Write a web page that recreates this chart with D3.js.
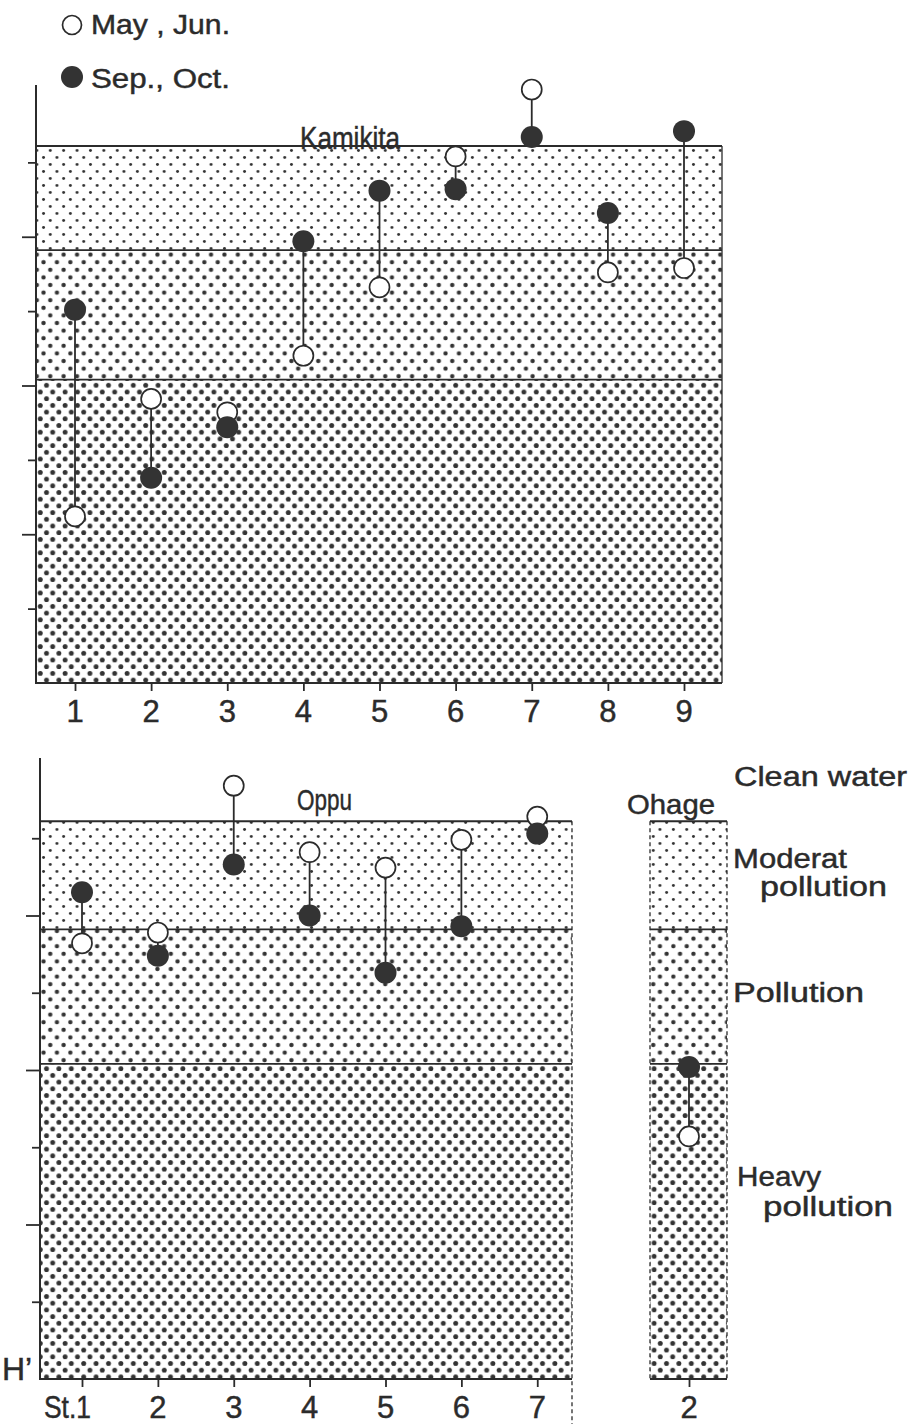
<!DOCTYPE html>
<html>
<head>
<meta charset="utf-8">
<script src="https://cdn.jsdelivr.net/npm/d3@7"></script>
<style>
  html, body { margin: 0; padding: 0; background: #fff; }
  svg { display: block; }
  text { font-family: "Liberation Sans", Arial, Helvetica, sans-serif; fill: #2b2b2b;
         stroke: #2b2b2b; stroke-width: 0.45px; }
</style>
</head>
<body>
<svg id="chart" width="908" height="1424"></svg>
<script>
// Diversity index H' at each station, two sampling seasons.
const kamikitaStations = ["1", "2", "3", "4", "5", "6", "7", "8", "9"];
const kamikitaMayJun   = [1.12, 1.91, 1.82, 2.20, 2.66, 3.54, 3.99, 2.76, 2.79];
const kamikitaSepOct   = [2.51, 1.38, 1.72, 2.97, 3.31, 3.32, 3.67, 3.16, 3.71];

const oppuStations = ["St.1", "2", "3", "4", "5", "6", "7"];
const oppuMayJun   = [2.82, 2.89, 3.84, 3.41, 3.31, 3.49, 3.64];
const oppuSepOct   = [3.15, 2.74, 3.33, 3.00, 2.63, 2.93, 3.53];

const ohageStations = ["2"];
const ohageMayJun   = [1.57];
const ohageSepOct   = [2.02];

// Water quality classes (upper H' bound of each shaded zone)
const zoneNames  = ["Moderat pollution", "Pollution", "Heavy pollution"];
const zoneBounds = [3.61, 2.91, 2.04, 0];
const yTickMajor = [1, 2, 3];
const yTickMinor = [0.5, 1.5, 2.5, 3.5];

const ink = "#2b2b2b";
const svg = d3.select("#chart");
const defs = svg.append("defs");

// Dot screens for the three zones
function dotPattern(id, w, h, r) {
  const p = defs.append("pattern").attr("id", id)
    .attr("patternUnits", "userSpaceOnUse").attr("width", w).attr("height", h);
  p.append("rect").attr("width", w).attr("height", h).attr("fill", "#fff");
  [[w * 0.25, h * 0.25], [w * 0.75, h * 0.75]].forEach(([cx, cy]) =>
    p.append("circle").attr("cx", cx).attr("cy", cy).attr("r", r).attr("fill", "#333"));
}
dotPattern("zone0", 13.4, 14.0, 1.45);
dotPattern("zone1", 13.4, 15.2, 2.2);
dotPattern("zone2", 12.4, 13.4, 2.45);

function drawPanel(cfg) {
  const g = svg.append("g");
  const y = d3.scaleLinear().domain([0, 4]).range([cfg.y0, cfg.y4]);

  // shaded zones
  cfg.blocks.forEach(b => {
    zoneNames.forEach((z, i) => {
      g.append("rect")
        .attr("x", b.x0).attr("width", b.x1 - b.x0)
        .attr("y", y(zoneBounds[i])).attr("height", y(zoneBounds[i + 1]) - y(zoneBounds[i]))
        .attr("fill", `url(#zone${i})`);
    });
    // zone boundaries
    zoneBounds.slice(0, 3).forEach(v => {
      g.append("line").attr("x1", b.x0).attr("x2", b.x1)
        .attr("y1", y(v)).attr("y2", y(v))
        .attr("stroke", ink).attr("stroke-width", 1.8);
    });
    // baseline
    g.append("line").attr("x1", b.x0).attr("x2", b.x1)
      .attr("y1", y(0)).attr("y2", y(0)).attr("stroke", ink).attr("stroke-width", 2);
    // side edges
    (b.edges || []).forEach(e => {
      g.append("line").attr("x1", e.x).attr("x2", e.x)
        .attr("y1", y(zoneBounds[0])).attr("y2", e.bottom || y(0))
        .attr("stroke", ink).attr("stroke-width", 1.3)
        .attr("stroke-dasharray", e.dash || null);
    });
  });

  // y axis with long and short ticks
  const axisG = g.append("g").attr("transform", `translate(${cfg.axisX},0)`);
  axisG.append("g").call(d3.axisLeft(y).tickValues(yTickMajor).tickSize(14).tickFormat(""))
    .call(a => a.select(".domain").remove());
  axisG.append("g").call(d3.axisLeft(y).tickValues(yTickMinor).tickSize(8).tickFormat(""))
    .call(a => a.select(".domain").remove());
  axisG.selectAll(".tick line").attr("stroke", ink).attr("stroke-width", 1.8);
  axisG.append("line").attr("x1", 0).attr("x2", 0)
    .attr("y1", y(4.02)).attr("y2", y(0) + 1)
    .attr("stroke", ink).attr("stroke-width", 2);

  // stations
  cfg.groups.forEach(grp => {
    const x = grp.x;
    const rows = grp.labels.map((s, i) => ({ s, a: grp.mayJun[i], b: grp.sepOct[i] }));
    // x ticks
    g.append("g").attr("transform", `translate(0,${y(0)})`)
      .call(d3.axisBottom(x).tickSize(8).tickFormat(""))
      .call(a => a.select(".domain").remove())
      .selectAll(".tick line").attr("stroke", ink).attr("stroke-width", 1.8);
    // x labels
    g.selectAll(null).data(rows).enter().append("text")
      .attr("x", d => x(d.s) + (d.s.startsWith("St.") ? 9 : 0))
      .attr("y", y(0) + 39)
      .attr("text-anchor", d => d.s.startsWith("St.") ? "end" : "middle")
      .attr("font-size", 31)
      .attr("textLength", d => d.s.startsWith("St.") ? 47 : null)
      .attr("lengthAdjust", "spacingAndGlyphs")
      .text(d => d.s);
    // stems
    g.selectAll(null).data(rows).enter().append("line")
      .attr("x1", d => x(d.s)).attr("x2", d => x(d.s))
      .attr("y1", d => y(d.a)).attr("y2", d => y(d.b))
      .attr("stroke", ink).attr("stroke-width", 1.8);
    // May, Jun. (open)
    g.selectAll(null).data(rows).enter().append("circle")
      .attr("cx", d => x(d.s)).attr("cy", d => y(d.a)).attr("r", 10)
      .attr("fill", "#fff").attr("stroke", ink).attr("stroke-width", 1.7);
    // Sep., Oct. (filled)
    g.selectAll(null).data(rows).enter().append("circle")
      .attr("cx", d => x(d.s)).attr("cy", d => y(d.b)).attr("r", 11)
      .attr("fill", "#333");
  });

  cfg.titles.forEach(t => {
    g.append("text").attr("x", t.x).attr("y", t.y).attr("font-size", t.size)
      .attr("textLength", t.w).attr("lengthAdjust", "spacingAndGlyphs").text(t.text);
  });
  return y;
}

// Kamikita
drawPanel({
  y0: 683, y4: 88, axisX: 36,
  blocks: [{ x0: 36, x1: 722, edges: [{ x: 722 }] }],
  groups: [{
    labels: kamikitaStations, mayJun: kamikitaMayJun, sepOct: kamikitaSepOct,
    x: d3.scalePoint().domain(kamikitaStations).range([75, 684])
  }],
  titles: [{ text: "Kamikita", x: 300, y: 149, w: 100, size: 31 }]
});

// Oppu and Ohage share one slot scale with a gap between them
const slots = [...oppuStations, "gap", "Ohage " + ohageStations[0]];
const slotX = d3.scalePoint().domain(slots).range([82, 689]);
const ohageX = d3.scalePoint().domain(ohageStations).range([slotX(slots[8]), slotX(slots[8])]);

drawPanel({
  y0: 1379, y4: 761, axisX: 40,
  blocks: [
    { x0: 40, x1: 572, edges: [{ x: 572, dash: "4,3", bottom: 1424 }] },
    { x0: 650, x1: 727, edges: [{ x: 650, dash: "4,3" }, { x: 727, dash: "4,3" }] }
  ],
  groups: [
    { labels: oppuStations, mayJun: oppuMayJun, sepOct: oppuSepOct,
      x: d3.scalePoint().domain(oppuStations).range([slotX(slots[0]), slotX(slots[6])]) },
    { labels: ohageStations, mayJun: ohageMayJun, sepOct: ohageSepOct, x: ohageX }
  ],
  titles: [
    { text: "Oppu", x: 297, y: 810, w: 55, size: 30 },
    { text: "Ohage", x: 627, y: 814, w: 88, size: 28 }
  ]
});

// H' axis label
svg.append("text").attr("x", 2).attr("y", 1380).attr("font-size", 32).text("H\u2019");

// Legend
const legend = svg.append("g");
legend.append("circle").attr("cx", 72).attr("cy", 25).attr("r", 9.5)
  .attr("fill", "#fff").attr("stroke", ink).attr("stroke-width", 1.7);
legend.append("text").attr("x", 91).attr("y", 34).attr("font-size", 27)
  .attr("textLength", 139).attr("lengthAdjust", "spacingAndGlyphs").text("May , Jun.");
legend.append("circle").attr("cx", 72).attr("cy", 77).attr("r", 11).attr("fill", "#333");
legend.append("text").attr("x", 91).attr("y", 88).attr("font-size", 27)
  .attr("textLength", 139).attr("lengthAdjust", "spacingAndGlyphs").text("Sep., Oct.");

// Water quality class labels
const classLabels = [
  { text: "Clean water", x: 734, y: 786, w: 173 },
  { text: "Moderat",     x: 733, y: 868, w: 114 },
  { text: "pollution",   x: 760, y: 896, w: 127 },
  { text: "Pollution",   x: 733, y: 1002, w: 131 },
  { text: "Heavy",       x: 737, y: 1186, w: 84 },
  { text: "pollution",   x: 763, y: 1216, w: 130 }
];
svg.append("g").selectAll("text").data(classLabels).enter().append("text")
  .attr("x", d => d.x).attr("y", d => d.y).attr("font-size", 27)
  .attr("textLength", d => d.w).attr("lengthAdjust", "spacingAndGlyphs")
  .text(d => d.text);
</script>
</body>
</html>
